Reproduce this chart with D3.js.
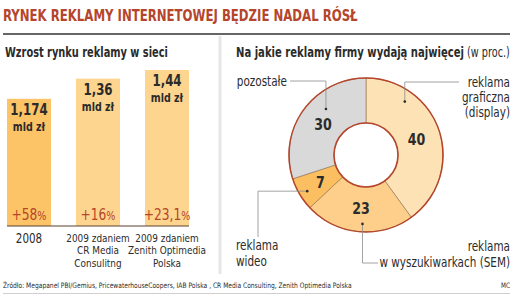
<!DOCTYPE html>
<html><head><meta charset="utf-8">
<script src="https://cdn.jsdelivr.net/npm/d3@7/dist/d3.min.js"></script>
<style>
html,body{margin:0;padding:0;background:#fff;}
svg{display:block;}
text{font-family:'Liberation Sans Narrow','DejaVu Sans Condensed','Roboto',sans-serif;}
</style></head>
<body><svg id="c" width="525" height="298"></svg>
<script>
// ---- data ----
const barCategories = [["2008"], ["2009 zdaniem", "CR Media", "Consulitng"], ["2009 zdaniem", "Zenith Optimedia", "Polska"]];
const barValues = [1.174, 1.36, 1.44];
const barValueLabels = ["1,174", "1,36", "1,44"];
const barUnit = "mld zł";
const barGrowth = ["+58", "+16", "+23,1"];
const pieCategories = [["reklama", "graficzna", "(display)"], ["reklama", "w wyszukiwarkach (SEM)"], ["reklama", "wideo"], ["pozostałe"]];
const pieValues = [40, 23, 7, 30];

const title = "RYNEK REKLAMY INTERNETOWEJ BĘDZIE NADAL RÓSŁ";
const leftTitle = "Wzrost rynku reklamy w sieci";
const rightTitleBold = "Na jakie reklamy firmy wydają najwięcej";
const rightTitleNormal = " (w proc.)";
const sourceText = "Źródło: Megapanel PBI/Gemius, PricewaterhouseCoopers, IAB Polska , CR Media Consulting, Zenith Optimedia Polska";
const credit = "MC";

// ---- styles ----
const RED = "#b5452b", DARK = "#2b2b2b";
const barColors = ["#fcc466", "#fdd58f", "#fdd58f"];
const pieColors = ["#fde2b6", "#fdcf8a", "#fbbf62", "#d9d9d9"];

const svg = d3.select("#c");

// horizontal condensing around the text anchor point (emulates a condensed face)
function condense(sel, k) {
  sel.each(function () {
    const s = d3.select(this);
    const x = +s.attr("x") || 0, y = +s.attr("y") || 0;
    const pre = s.attr("transform") || "";
    s.attr("transform", `${pre} translate(${x},${y}) scale(${k},1) translate(${-x},${-y})`);
  });
}
function fitWidth(sel, w) {
  sel.each(function () {
    const n = this.getComputedTextLength();
    condense(d3.select(this), w / n);
  });
}

// header
fitWidth(svg.append("text").attr("x", 3).attr("y", 21).attr("fill", RED)
  .attr("font-size", 16).attr("font-weight", "bold").text(title), 355);
svg.append("line").attr("x1", 3).attr("x2", 510).attr("y1", 34).attr("y2", 34)
  .attr("stroke", "#333").attr("stroke-width", 1.6);
svg.append("line").attr("x1", 220).attr("x2", 220).attr("y1", 36).attr("y2", 274)
  .attr("stroke", "#e6e6e6").attr("stroke-width", 3);

fitWidth(svg.append("text").attr("x", 5).attr("y", 57).attr("fill", DARK)
  .attr("font-size", 14).attr("font-weight", "bold").text(leftTitle), 163);
const rt = svg.append("text").attr("x", 236).attr("y", 57).attr("fill", DARK).attr("font-size", 14);
rt.append("tspan").attr("font-weight", "bold").text(rightTitleBold);
rt.append("tspan").attr("font-size", 13.5).text(rightTitleNormal);
fitWidth(rt, 274);

// ---- bar chart ----
const x = d3.scaleBand().domain(d3.range(barValues.length)).range([7, 189])
  .paddingInner(0.3623).paddingOuter(0);
const y = d3.scaleLinear().domain([0, 1.44]).range([226, 70]);
const xc = i => x(i) + x.bandwidth() / 2;

const bars = svg.append("g");
bars.selectAll("rect").data(barValues).join("rect")
  .attr("x", (d, i) => x(i)).attr("width", x.bandwidth())
  .attr("y", d => y(d)).attr("height", d => y(0) - y(d))
  .attr("fill", (d, i) => barColors[i]);

condense(bars.selectAll("text.val").data(barValues).join("text").attr("class", "val")
  .attr("x", (d, i) => xc(i)).attr("y", d => y(d) + 16.5)
  .attr("text-anchor", "middle").attr("font-size", 16).attr("font-weight", "bold").attr("fill", DARK)
  .text((d, i) => barValueLabels[i]), 0.82);
condense(bars.selectAll("text.unit").data(barValues).join("text").attr("class", "unit")
  .attr("x", (d, i) => xc(i)).attr("y", d => y(d) + 32)
  .attr("text-anchor", "middle").attr("font-size", 12).attr("font-weight", "bold").attr("fill", DARK)
  .text(barUnit), 0.88);

const g = bars.selectAll("text.gr").data(barGrowth).join("text").attr("class", "gr")
  .attr("x", (d, i) => xc(i)).attr("y", y(0) - 6)
  .attr("text-anchor", "middle").attr("fill", RED).attr("font-size", 16);
g.append("tspan").text(d => d);
g.append("tspan").attr("font-size", 12.5).text("%");
condense(g, 0.85);

svg.append("line").attr("x1", 7).attr("x2", 189).attr("y1", y(0)).attr("y2", y(0))
  .attr("stroke", "#5a4030").attr("stroke-width", 1.2);

barCategories.forEach((lines, i) => {
  lines.forEach((s, k) => {
    const t = bars.append("text").attr("x", xc(i)).attr("y", (lines.length === 1 ? 243 : 242) + k * 12.5)
      .attr("text-anchor", "middle").attr("fill", DARK)
      .attr("font-size", lines.length === 1 ? 14 : 11).text(s);
    condense(t, lines.length === 1 ? 0.82 : 0.9);
  });
});

// ---- donut ----
const cx = 366, cy = 155, R = 77, r0 = 32;
const pie = d3.pie().sort(null).value(d => d)(pieValues);
const arc = d3.arc().innerRadius(r0).outerRadius(R);
const dg = svg.append("g").attr("transform", `translate(${cx},${cy})`);
dg.selectAll("path").data(pie).join("path")
  .attr("d", arc).attr("fill", (d, i) => pieColors[i])
  .attr("stroke", "#7a5a40").attr("stroke-width", 0.5);
dg.append("circle").attr("r", R).attr("fill", "none").attr("stroke", RED).attr("stroke-width", 1.6);
dg.append("circle").attr("r", r0).attr("fill", "none").attr("stroke", RED).attr("stroke-width", 1.6);

const labelArc = d3.arc().innerRadius(53).outerRadius(53);
condense(dg.selectAll("text.pv").data(pie).join("text").attr("class", "pv")
  .attr("transform", d => `translate(${labelArc.centroid(d)})`)
  .attr("dy", "0.36em").attr("text-anchor", "middle")
  .attr("font-size", 16.5).attr("font-weight", "bold").attr("fill", DARK)
  .text(d => d.data), 0.85);

// leader dots / lines (layout config)
const leaders = [
  { frac: 0.25, rad: 66, path: (p) => [[p[0], p[1]], [p[0], 82], [459, 82]], lx: 510, ly: 87, anchor: "end", lh: 15 },
  { frac: 0.47, rad: 69, path: (p) => [[p[0], p[1]], [p[0], 263], [378, 263]], lx: 510, ly: 251, anchor: "end", lh: 16 },
  { frac: 0.46, rad: 69, path: (p) => [[p[0], p[1]], [258, p[1]], [258, 237]], lx: 236, ly: 250, anchor: "start", lh: 16 },
  { frac: 0.62, rad: 61, path: (p) => [[p[0], p[1]], [p[0], 81], [290, 81]], lx: 287, ly: 86, anchor: "end", lh: 15 }
];
const lg = svg.append("g");
pie.forEach((d, i) => {
  const L = leaders[i];
  const a = d.startAngle + (d.endAngle - d.startAngle) * L.frac;
  const p = [cx + L.rad * Math.sin(a), cy - L.rad * Math.cos(a)];
  lg.append("path").attr("d", d3.line()(L.path(p))).attr("fill", "none")
    .attr("stroke", "#8c8c8c").attr("stroke-width", 0.8);
  lg.append("circle").attr("cx", p[0]).attr("cy", p[1]).attr("r", 1.3).attr("fill", DARK);
  pieCategories[i].forEach((s, k) => {
    const t = lg.append("text").attr("x", L.lx).attr("y", L.ly + k * L.lh).attr("text-anchor", L.anchor)
      .attr("font-size", 13.5).attr("fill", DARK).text(s);
    condense(t, 0.86);
  });
});

// ---- footer ----
fitWidth(svg.append("text").attr("x", 3).attr("y", 288).attr("fill", DARK).attr("font-size", 7.5)
  .text(sourceText), 349);
condense(svg.append("text").attr("x", 510).attr("y", 288).attr("text-anchor", "end").attr("fill", DARK)
  .attr("font-size", 7.5).text(credit), 0.85);
svg.append("line").attr("x1", 3).attr("x2", 510).attr("y1", 293.5).attr("y2", 293.5)
  .attr("stroke", "#cfcfcf").attr("stroke-width", 1);
</script></body></html>
